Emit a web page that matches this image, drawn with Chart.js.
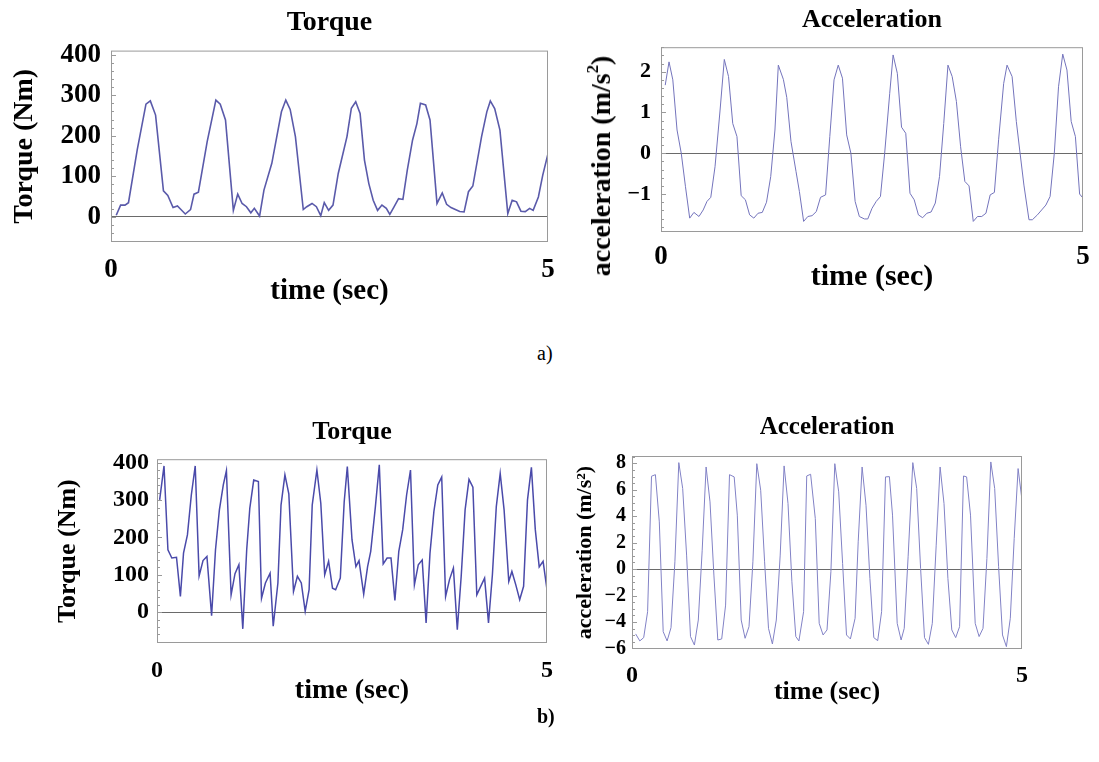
<!DOCTYPE html>
<html>
<head>
<meta charset="utf-8">
<script src="https://cdn.jsdelivr.net/npm/chart.js@4.4.1/dist/chart.umd.min.js"></script>
<style>
  body { margin: 0; background: #fff; }
  #page { position: relative; width: 1099px; height: 762px; }
  canvas { position: absolute; }
  .cap { position: absolute; font-family: 'Liberation Serif', 'Times New Roman', serif; font-size: 20px; color: #000; }
  .ylab { position: absolute; white-space: nowrap; font-family: 'Liberation Serif', 'Times New Roman', serif;
          font-weight: bold; color: #000; transform: translate(-50%, -50%) rotate(-90deg); }
  .ylab sup { font-size: 0.6em; vertical-align: 0.7em; line-height: 0; }
</style>
</head>
<body>
<div id="page">
  <canvas id="torqueA" width="560" height="309" style="left:0;top:0"></canvas>
  <canvas id="accelA" width="539" height="295" style="left:560px;top:0"></canvas>
  <div class="ylab" style="left:601px;top:166px;font-size:28px">acceleration (m/s<sup>2</sup>)</div>
  <div class="cap" style="left:537px;top:342px">a)</div>
  <canvas id="torqueB" width="560" height="298" style="left:0;top:410px"></canvas>
  <canvas id="accelB" width="539" height="298" style="left:560px;top:410px"></canvas>
  <div class="cap" style="left:537px;top:705px;font-weight:bold">b)</div>
</div>
<script>
// time axis ticks (sec)
const timeTicks = [0, 5];

// a) torque, Nm
const torqueA_t = [0.06,0.11,0.16,0.2,0.3,0.4,0.45,0.51,0.6,0.65,
  0.71,0.76,0.8,0.85,0.91,0.95,1.0,1.1,1.2,1.25,
  1.31,1.4,1.45,1.5,1.55,1.6,1.64,1.7,1.75,1.84,
  1.95,2.0,2.05,2.11,2.2,2.24,2.3,2.35,2.4,2.44,
  2.49,2.54,2.6,2.7,2.75,2.8,2.85,2.9,2.95,3.0,
  3.05,3.1,3.15,3.19,3.24,3.29,3.34,3.39,3.45,3.5,
  3.54,3.6,3.65,3.73,3.79,3.84,3.89,3.94,3.99,4.04,
  4.09,4.14,4.24,4.3,4.34,4.39,4.45,4.54,4.59,4.64,
  4.69,4.74,4.79,4.83,4.89,4.94,5.0];
const torqueA_v = [4,29,29,35,165,278,286,251,64,53,
  23,27,18,7,18,56,61,185,288,278,
  239,16,56,33,25,10,21,2,66,132,
  259,288,265,198,18,25,33,25,3,35,
  16,29,107,198,268,284,255,140,82,41,
  16,29,21,6,25,45,43,115,189,230,
  280,276,239,33,59,31,23,18,13,12,
  62,76,198,259,286,267,214,8,41,37,
  14,13,21,16,49,103,156];
const torqueA_ticks = [0, 100, 200, 300, 400];

// a) acceleration, m/s^2
const accelA_t = [0.05,0.095,0.14,0.19,0.24,0.29,0.34,0.39,0.45,0.5,
  0.545,0.59,0.64,0.7,0.75,0.8,0.85,0.9,0.95,1.0,
  1.05,1.1,1.15,1.2,1.25,1.3,1.35,1.39,1.45,1.49,
  1.54,1.6,1.64,1.69,1.74,1.79,1.84,1.89,1.95,2.0,
  2.05,2.1,2.15,2.2,2.25,2.3,2.35,2.41,2.45,2.5,
  2.55,2.6,2.65,2.71,2.75,2.8,2.85,2.9,2.95,3.0,
  3.05,3.1,3.15,3.2,3.25,3.3,3.35,3.4,3.45,3.5,
  3.55,3.6,3.65,3.7,3.75,3.8,3.85,3.9,3.95,4.0,
  4.06,4.1,4.16,4.21,4.25,4.3,4.36,4.4,4.46,4.51,
  4.56,4.61,4.66,4.71,4.76,4.81,4.86,4.91,4.96,5.0];
const accelA_v = [1.67,2.24,1.8,0.57,0,-0.82,-1.59,-1.45,-1.55,-1.39,
  -1.18,-1.08,-0.33,1.06,2.3,1.88,0.73,0.41,-1.04,-1.14,
  -1.51,-1.59,-1.47,-1.45,-1.2,-0.57,0.57,2.16,1.81,1.37,
  0.29,-0.45,-0.94,-1.67,-1.55,-1.53,-1.43,-1.08,-1.02,0.41,
  1.8,2.16,1.84,0.45,0,-1.18,-1.55,-1.61,-1.61,-1.35,
  -1.18,-1.06,0,1.47,2.41,1.96,0.64,0.49,-0.98,-1.14,
  -1.51,-1.58,-1.47,-1.44,-1.22,-0.57,0.73,2.16,1.88,1.27,
  0.16,-0.69,-0.8,-1.67,-1.55,-1.55,-1.47,-1.02,-0.96,0.33,
  1.71,2.16,1.88,0.78,0.08,-0.78,-1.63,-1.63,-1.51,-1.39,
  -1.27,-1.06,0,1.63,2.43,2.04,0.78,0.41,-1.0,-1.1];
const accelA_ticks = [-1, 0, 1, 2];

// b) torque, Nm
const torqueB_t = [0.034,0.09,0.14,0.19,0.25,0.3,0.34,0.39,0.44,0.49,
  0.54,0.59,0.64,0.7,0.75,0.8,0.85,0.89,0.95,1.0,
  1.05,1.1,1.15,1.19,1.24,1.3,1.34,1.39,1.45,1.49,
  1.55,1.59,1.64,1.69,1.75,1.8,1.85,1.9,1.95,1.99,
  2.05,2.1,2.15,2.2,2.25,2.29,2.35,2.4,2.44,2.5,
  2.55,2.59,2.65,2.7,2.74,2.8,2.85,2.9,2.95,3.0,
  3.05,3.1,3.15,3.2,3.25,3.3,3.35,3.4,3.45,3.5,
  3.55,3.6,3.65,3.7,3.75,3.8,3.85,3.9,3.95,4.0,
  4.05,4.1,4.15,4.2,4.25,4.3,4.35,4.4,4.45,4.51,
  4.55,4.6,4.65,4.7,4.75,4.8,4.85,4.9,4.95,5.0];
const torqueB_v = [301,392,167,145,147,42,158,207,314,392,
  97,138,149,-10,167,274,341,379,46,103,
  127,-45,167,279,354,350,37,78,104,-38,
  78,287,368,317,55,96,78,2,60,287,
  381,292,100,136,64,60,91,296,390,194,
  122,138,48,122,163,283,395,129,145,145,
  31,163,221,314,381,73,127,140,-29,158,
  270,341,362,42,87,118,-47,96,274,356,
  335,46,69,91,-29,100,283,372,274,82,
  109,73,33,69,301,388,221,121,136,60];
const torqueB_ticks = [0, 100, 200, 300, 400];

// b) acceleration, m/s^2
const accelB_t = [0.047,0.1,0.15,0.2,0.25,0.3,0.35,0.4,0.45,0.5,
  0.55,0.6,0.65,0.7,0.75,0.8,0.85,0.9,0.95,1.0,
  1.05,1.1,1.15,1.2,1.25,1.31,1.35,1.4,1.45,1.5,
  1.55,1.6,1.65,1.7,1.75,1.8,1.85,1.9,1.95,2.0,
  2.05,2.1,2.14,2.2,2.24,2.29,2.35,2.4,2.45,2.5,
  2.55,2.6,2.65,2.7,2.75,2.8,2.86,2.9,2.95,3.0,
  3.05,3.1,3.15,3.2,3.25,3.3,3.34,3.4,3.45,3.49,
  3.54,3.6,3.65,3.7,3.75,3.8,3.85,3.9,3.95,4.0,
  4.05,4.1,4.15,4.2,4.25,4.29,4.34,4.4,4.45,4.5,
  4.55,4.6,4.65,4.7,4.75,4.8,4.85,4.9,4.95,5.0];
const accelB_v = [-4.9,-5.43,-5.18,-3.22,7.02,7.14,3.57,-4.73,-5.43,-4.43,
  0.55,8.05,6.09,1.06,-5.1,-5.74,-3.85,1.43,7.72,5.08,
  -0.45,-5.36,-5.28,-2.72,7.14,6.97,4.08,-3.85,-5.23,-4.35,
  0.55,7.97,5.96,0.55,-4.48,-5.66,-3.85,1.06,7.8,4.96,
  -0.96,-5.1,-5.43,-3.22,7.04,7.17,3.82,-4.1,-4.98,-4.6,
  -0.2,7.97,5.84,0.43,-4.98,-5.28,-3.72,2.06,7.72,4.83,
  -0.7,-5.18,-5.41,-3.22,6.97,6.99,4.08,-4.1,-5.36,-4.48,
  0.93,8.05,6.09,0.05,-5.18,-5.69,-4.1,1.81,7.72,4.96,
  -0.7,-4.6,-5.18,-4.35,7.04,6.97,4.08,-4.1,-5.1,-4.48,
  0.8,8.1,6.09,0.18,-4.98,-5.86,-3.72,2.31,7.6,5.21];
const accelB_ticks = [-6, -4, -2, 0, 2, 4, 6, 8];

const serif = "'Liberation Serif', 'Times New Roman', serif";

// box round the plot area plus small inside ticks on the left side
const frame = {
  id: 'frame',
  afterDatasetsDraw(chart, args, opts) {
    const { ctx, chartArea: a } = chart;
    const y = chart.scales.y;
    ctx.save();
    ctx.strokeStyle = '#9a9a9a';
    ctx.lineWidth = 1;
    ctx.strokeRect(a.left + 0.5, a.top + 0.5, a.width - 1, a.height - 1);
    if (opts.minor) {
      const start = Math.ceil(y.min / opts.minor);
      const end = Math.floor(y.max / opts.minor);
      ctx.beginPath();
      for (let k = start; k <= end; k++) {
        const py = Math.round(y.getPixelForValue(k * opts.minor)) + 0.5;
        const len = Math.abs((k * opts.minor) % opts.major) < 1e-6 ? 5 : 3;
        ctx.moveTo(a.left, py);
        ctx.lineTo(a.left + len, py);
      }
      ctx.stroke();
    }
    ctx.restore();
  }
};

function panel(id, t, v, o) {
  return new Chart(document.getElementById(id), {
    type: 'line',
    data: {
      datasets: [{
        data: t.map((x, i) => ({ x: x, y: v[i] })),
        borderColor: o.color,
        borderWidth: o.lw,
        pointRadius: 0,
        tension: 0
      }]
    },
    options: {
      responsive: false,
      animation: false,
      layout: { padding: o.pad },
      plugins: {
        legend: { display: false },
        tooltip: { enabled: false },
        title: {
          display: true, text: o.title, color: '#000', fullSize: false,
          font: { family: serif, size: o.titleSize, weight: 'bold' },
          padding: o.titlePad
        },
        frame: { minor: o.minor, major: o.major }
      },
      scales: {
        x: {
          type: 'linear', min: 0, max: 5,
          afterBuildTicks: s => { s.ticks = timeTicks.map(value => ({ value })); },
          afterFit: s => { s.height = o.xh; },
          grid: { display: false },
          border: { display: false },
          ticks: { color: '#000', padding: o.xtp, maxRotation: 0, autoSkip: false,
                   font: { family: serif, size: o.xtSize, weight: 'bold' } },
          title: { display: true, text: 'time (sec)', color: '#000', padding: 0,
                   font: { family: serif, size: o.xlSize, weight: 'bold' } }
        },
        y: {
          min: o.ymin, max: o.ymax,
          afterBuildTicks: s => { s.ticks = o.ticks.map(value => ({ value })); },
          afterFit: s => { s.width = o.yw; },
          grid: { drawTicks: false, lineWidth: 1,
                  color: c => (c.tick && c.tick.value === 0) ? '#6a6a6a' : 'rgba(0,0,0,0)' },
          border: { display: false },
          ticks: { color: '#000', padding: o.ytp,
                   font: { family: serif, size: o.ytSize, weight: 'bold' },
                   callback: val => String(val).replace('-', '\u2212') },
          title: { display: !!o.ylabel, text: o.ylabel || '', color: '#000', padding: { top: o.ylPad || 0, bottom: 0 },
                   font: { family: serif, size: o.ylSize || 12, weight: 'bold' } }
        }
      }
    },
    plugins: [frame]
  });
}

panel('torqueA', torqueA_t, torqueA_v, {
  color: '#5a5aaa', lw: 1.6, title: 'Torque', titleSize: 28, titlePad: { top: 6, bottom: 11 },
  pad: { left: 0, right: 12, top: 0, bottom: 0 },
  ymin: -62, ymax: 410, ticks: torqueA_ticks, minor: 20, major: 100,
  yw: 111, xh: 67, xtp: 4, ytp: 10,
  xtSize: 27, ytSize: 27, xlSize: 29, ylabel: 'Torque (Nm)', ylSize: 28, ylPad: 8
});

panel('accelA', accelA_t, accelA_v, {
  color: '#7474bc', lw: 1, title: 'Acceleration', titleSize: 26, titlePad: { top: 5, bottom: 11 },
  pad: { left: 0, right: 16, top: 0, bottom: 0 },
  ymin: -1.93, ymax: 2.6, ticks: accelA_ticks, minor: 0.2, major: 1,
  yw: 101, xh: 63, xtp: 1, ytp: 10,
  xtSize: 27, ytSize: 22, xlSize: 30
});

panel('torqueB', torqueB_t, torqueB_v, {
  color: '#4a4aaa', lw: 1.5, title: 'Torque', titleSize: 26, titlePad: { top: 7, bottom: 11 },
  pad: { left: 0, right: 13, top: 0, bottom: 0 },
  ymin: -83, ymax: 410, ticks: torqueB_ticks, minor: 20, major: 100,
  yw: 157, xh: 65, xtp: 5, ytp: 8,
  xtSize: 24, ytSize: 24, xlSize: 28, ylabel: 'Torque (Nm)', ylSize: 26, ylPad: 53
});

panel('accelB', accelB_t, accelB_v, {
  color: '#8282c6', lw: 1, title: 'Acceleration', titleSize: 25, titlePad: { top: 3, bottom: 13 },
  pad: { left: 0, right: 77, top: 0, bottom: 0 },
  ymin: -6.04, ymax: 8.55, ticks: accelB_ticks, minor: 0.5, major: 2,
  yw: 72, xh: 59, xtp: 4, ytp: 6,
  xtSize: 24, ytSize: 20, xlSize: 26, ylabel: 'acceleration (m/s\u00b2)', ylSize: 22, ylPad: 12
});
</script>
</body>
</html>
